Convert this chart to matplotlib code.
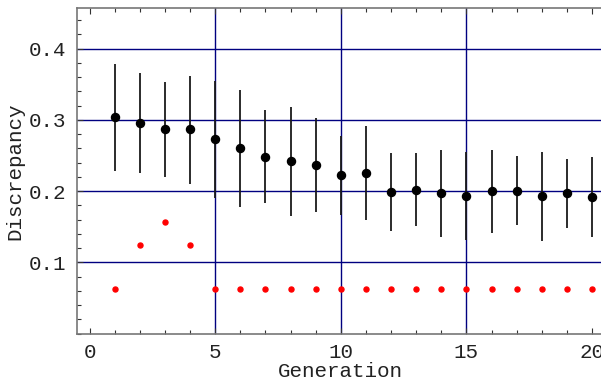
import numpy as np
import matplotlib
matplotlib.use("Agg")
from matplotlib import pyplot as plt
from matplotlib.ticker import MultipleLocator

# values
generation = np.arange(1, 21)
mean = [0.304, 0.296, 0.287, 0.287, 0.273, 0.260, 0.248, 0.242, 0.237, 0.223,
        0.226, 0.199, 0.202, 0.197, 0.193, 0.200, 0.200, 0.193, 0.197, 0.192]
upper = [0.379, 0.366, 0.353, 0.362, 0.354, 0.342, 0.314, 0.318, 0.303, 0.277,
         0.291, 0.253, 0.253, 0.258, 0.255, 0.257, 0.249, 0.255, 0.245, 0.248]
lower = [0.228, 0.225, 0.220, 0.210, 0.190, 0.178, 0.183, 0.165, 0.170, 0.166,
         0.160, 0.144, 0.151, 0.136, 0.132, 0.141, 0.152, 0.130, 0.148, 0.135]
best = [0.0625, 0.125, 0.15625, 0.125] + [0.0625] * 16

mean = np.array(mean)
yerr = [mean - np.array(lower), np.array(upper) - mean]

plt.rcParams['font.family'] = ['Liberation Mono', 'DejaVu Sans']

fig = plt.figure(figsize=(6.01, 3.82), dpi=100)
ax = fig.add_axes([0.1281, 0.1267, 0.878, 0.8524])

navy = '#000080'
for g in [5, 10, 15]:
    ax.axvline(g, color=navy, lw=1, zorder=1)
for v in [0.1, 0.2, 0.3, 0.4]:
    ax.axhline(v, color=navy, lw=1, zorder=1)

ax.errorbar(generation, mean, yerr=yerr, fmt='o', color='black', ecolor='#1a1a1a',
            elinewidth=1.3, capsize=0, markersize=5.8, zorder=3)
ax.plot(generation, best, 'o', color='red', markersize=3.6, zorder=3)

ax.set_xlim(-0.5, 20.5)
ax.set_ylim(0, 0.457)
ax.xaxis.set_major_locator(MultipleLocator(5))
ax.xaxis.set_minor_locator(MultipleLocator(1))
ax.set_yticks([0.1, 0.2, 0.3, 0.4])
ax.yaxis.set_minor_locator(MultipleLocator(0.02))
ax.tick_params(which='both', direction='in', top=True, right=False, colors='#333333',
               labelcolor='#222222', labelsize=15)
ax.tick_params(which='major', length=4, width=0.8)
ax.tick_params(which='minor', length=3, width=0.8)
ax.tick_params(axis='y', pad=8)
ax.tick_params(axis='x', pad=7)

for s in ['left', 'bottom', 'top']:
    ax.spines[s].set_color('#777777')
    ax.spines[s].set_linewidth(1.2)
ax.spines['right'].set_visible(False)

ax.set_xlabel('Generation', fontsize=15, color='#222222', labelpad=0)
ax.set_ylabel('Discrepancy', fontsize=15, color='#222222', labelpad=3)

fig.savefig('out.png', dpi=100)
